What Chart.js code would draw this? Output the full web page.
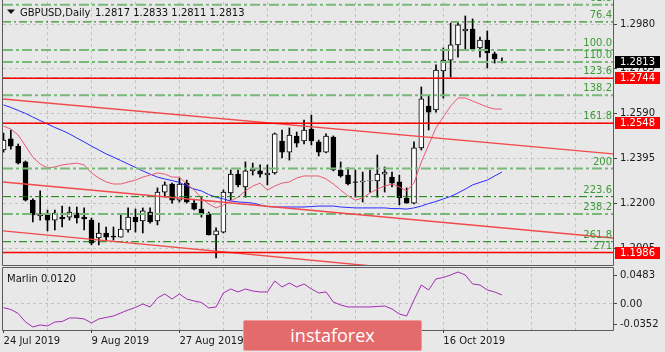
<!DOCTYPE html>
<html>
<head>
<meta charset="utf-8">
<script src="https://cdn.jsdelivr.net/npm/chart.js@4.4.1/dist/chart.umd.min.js"></script>
<style>
  html, body { margin: 0; padding: 0; background: #e8e8e8; }
  body { width: 665px; height: 352px; position: relative; overflow: hidden; }
  #priceChart { position: absolute; left: 0; top: 0; }
  #marlinChart { position: absolute; left: 0; top: 267px; }
  #logo {
    position: absolute; left: 243px; top: 320px; width: 177px; height: 29px;
    background: #e36b6b; border: 1px solid #ee9a9a; border-radius: 2px;
    color: #fff; font: 18px 'Open Sans', sans-serif; line-height: 29px; text-align: center;
  }
</style>
</head>
<body>
<canvas id="priceChart" width="665" height="267"></canvas>
<canvas id="marlinChart" width="665" height="85"></canvas>
<div id="logo">instaforex</div>
<script>
// GBPUSD daily candles, one entry per bar (24 Jul .. 25 Oct 2019)
const opens = [1.2432, 1.2480, 1.2449, 1.2380, 1.2214, 1.2145, 1.2154, 1.2127, 1.2140, 1.2140,
  1.2158, 1.2140, 1.2127, 1.2049, 1.2071, 1.2058, 1.2053, 1.2084, 1.2140, 1.2123,
  1.2162, 1.2123, 1.2249, 1.2284, 1.2214, 1.2288, 1.2201, 1.2175, 1.2154, 1.2062,
  1.2075, 1.2245, 1.2327, 1.2271, 1.2341, 1.2341, 1.2323, 1.2332, 1.2471, 1.2423,
  1.2493, 1.2471, 1.2523, 1.2467, 1.2423, 1.2488, 1.2345, 1.2323, 1.2293, 1.2293,
  1.2297, 1.2297, 1.2327, 1.2314, 1.2293, 1.2223, 1.2201, 1.2441, 1.2623, 1.2606,
  1.2776, 1.2823, 1.2889, 1.2950, 1.2958, 1.2876, 1.2910, 1.2850, 1.2817];
const highs = [1.2506, 1.2519, 1.2458, 1.2384, 1.2219, 1.2254, 1.2171, 1.2171, 1.2188, 1.2184,
  1.2184, 1.2180, 1.2136, 1.2114, 1.2097, 1.2097, 1.2149, 1.2180, 1.2175, 1.2180,
  1.2180, 1.2267, 1.2293, 1.2288, 1.2310, 1.2301, 1.2214, 1.2227, 1.2162, 1.2093,
  1.2258, 1.2345, 1.2345, 1.2380, 1.2375, 1.2367, 1.2367, 1.2506, 1.2519, 1.2528,
  1.2510, 1.2562, 1.2584, 1.2475, 1.2502, 1.2493, 1.2380, 1.2354, 1.2345, 1.2336,
  1.2345, 1.2410, 1.2358, 1.2336, 1.2323, 1.2267, 1.2467, 1.2706, 1.2667, 1.2802,
  1.2876, 1.2984, 1.2984, 1.3015, 1.3002, 1.2923, 1.2950, 1.2858, 1.2833];
const lows = [1.2423, 1.2436, 1.2371, 1.2210, 1.2119, 1.2127, 1.2080, 1.2084, 1.2097, 1.2127,
  1.2114, 1.2084, 1.2019, 1.2019, 1.2040, 1.2040, 1.2053, 1.2075, 1.2075, 1.2071,
  1.2114, 1.2106, 1.2227, 1.2201, 1.2206, 1.2201, 1.2171, 1.2140, 1.2062, 1.1962,
  1.2071, 1.2214, 1.2271, 1.2227, 1.2323, 1.2314, 1.2280, 1.2327, 1.2397, 1.2388,
  1.2445, 1.2458, 1.2454, 1.2406, 1.2419, 1.2341, 1.2314, 1.2280, 1.2227, 1.2206,
  1.2249, 1.2227, 1.2249, 1.2271, 1.2193, 1.2201, 1.2197, 1.2432, 1.2519, 1.2597,
  1.2658, 1.2749, 1.2836, 1.2867, 1.2863, 1.2836, 1.2789, 1.2810, 1.2811];
const closes = [1.2475, 1.2449, 1.2375, 1.2214, 1.2149, 1.2154, 1.2127, 1.2158, 1.2132, 1.2162,
  1.2136, 1.2132, 1.2027, 1.2071, 1.2053, 1.2053, 1.2088, 1.2140, 1.2119, 1.2167,
  1.2119, 1.2249, 1.2280, 1.2214, 1.2284, 1.2206, 1.2175, 1.2154, 1.2062, 1.2080,
  1.2249, 1.2327, 1.2280, 1.2341, 1.2349, 1.2327, 1.2332, 1.2502, 1.2423, 1.2497,
  1.2462, 1.2519, 1.2471, 1.2423, 1.2493, 1.2345, 1.2319, 1.2284, 1.2291, 1.2297,
  1.2299, 1.2327, 1.2336, 1.2288, 1.2223, 1.2201, 1.2441, 1.2654, 1.2597, 1.2780,
  1.2823, 1.2889, 1.2976, 1.2958, 1.2871, 1.2910, 1.2854, 1.2828, 1.2813];

// moving averages
const maFast = [1.2536, 1.2523, 1.2497, 1.2449, 1.2401, 1.2371, 1.2354, 1.2358, 1.2367, 1.2371,
  1.2375, 1.2367, 1.2332, 1.2310, 1.2293, 1.2284, 1.2284, 1.2293, 1.2301, 1.2314,
  1.2323, 1.2332, 1.2327, 1.2314, 1.2314, 1.2284, 1.2258, 1.2223, 1.2197, 1.2180,
  1.2193, 1.2210, 1.2227, 1.2254, 1.2275, 1.2288, 1.2258, 1.2275, 1.2288, 1.2293,
  1.2310, 1.2319, 1.2319, 1.2319, 1.2306, 1.2284, 1.2258, 1.2232, 1.2214, 1.2223,
  1.2245, 1.2262, 1.2275, 1.2284, 1.2271, 1.2254, 1.2288, 1.2380, 1.2454, 1.2528,
  1.2576, 1.2623, 1.2658, 1.2658, 1.2645, 1.2632, 1.2619, 1.2610, 1.2610];
const maSlow = [1.2628, 1.2617, 1.2604, 1.2591, 1.2575, 1.2560, 1.2545, 1.2530, 1.2517, 1.2502,
  1.2484, 1.2467, 1.2449, 1.2432, 1.2415, 1.2401, 1.2386, 1.2371, 1.2356, 1.2341,
  1.2327, 1.2314, 1.2306, 1.2299, 1.2291, 1.2275, 1.2262, 1.2254, 1.2238, 1.2227,
  1.2219, 1.2210, 1.2206, 1.2204, 1.2201, 1.2193, 1.2186, 1.2184, 1.2184, 1.2184,
  1.2184, 1.2184, 1.2186, 1.2188, 1.2188, 1.2188, 1.2184, 1.2182, 1.2180, 1.2180,
  1.2180, 1.2180, 1.2180, 1.2177, 1.2177, 1.2175, 1.2180, 1.2188, 1.2199, 1.2208,
  1.2219, 1.2230, 1.2245, 1.2262, 1.2280, 1.2291, 1.2301, 1.2319, 1.2336];

// Marlin oscillator (sub window)
const marlin = [-0.0063, -0.0094, -0.0162, -0.0307, -0.0392, -0.0358, -0.0375, -0.0307, -0.0299, -0.0239,
  -0.0239, -0.0256, -0.0324, -0.0256, -0.0230, -0.0205, -0.0154, -0.0102, -0.0060, 0.0000,
  -0.0051, 0.0102, 0.0171, 0.0085, 0.0171, 0.0085, 0.0051, 0.0026, -0.0068, -0.0051,
  0.0188, 0.0256, 0.0205, 0.0256, 0.0222, 0.0205, 0.0205, 0.0392, 0.0290, 0.0358,
  0.0290, 0.0341, 0.0256, 0.0188, 0.0205, 0.0034, -0.0017, -0.0051, -0.0051, -0.0051,
  -0.0051, -0.0043, -0.0034, -0.0085, -0.0171, -0.0205, 0.0068, 0.0324, 0.0239, 0.0427,
  0.0452, 0.0495, 0.0546, 0.0495, 0.0341, 0.0324, 0.0239, 0.0205, 0.0154];

// axis ticks / labels
const dateLabels = ['24 Jul 2019', '9 Aug 2019', '27 Aug 2019', '12 Sep 2019', '30 Sep 2019', '16 Oct 2019'];
const dateTickIdx = [0, 12, 24, 36, 48, 60];
const gridIdx = [6, 12, 18, 24, 30, 36, 42, 48, 54, 60, 66, 72, 78];
const priceTicks = [1.2005, 1.2200, 1.2395, 1.2590, 1.2785, 1.2980];
const marlinTicks = [-0.0352, 0, 0.0483];

// drawn objects
const redLevels = [1.2744, 1.2548, 1.1986];
const fibLabels = ['61.8', '76.4', '100.0', '110.0', '123.6', '138.2', '161.8', '200', '223.6', '238.2', '261.8', '271'];
const fibPrices = [1.3064, 1.2989, 1.2867, 1.2815, 1.2744, 1.2670, 1.2548, 1.2351, 1.2229, 1.2153, 1.2033, 1.1986];
const trendX = [[-0.07, 83.15], [-0.07, 83.15], [-0.07, 50.4]];
const trendY = [[1.2654, 1.2415], [1.2293, 1.2049], [1.2080, 1.1927]];

// visible ranges
const xMin = -0.07, xMax = 83.15;
const priceMin = 1.19317, priceMax = 1.30757;
const marlinMin = -0.0444, marlinMax = 0.0614;

const darkFib = ['76.4', '123.6', '161.8', '223.6', '261.8', '271'];
const FONT = "'DejaVu Sans', sans-serif";
const GRID = '#c3c3c3';

Chart.defaults.font.family = FONT;
Chart.defaults.font.size = 10;
Chart.defaults.color = '#1a1a1a';

function hLine(y, extra) {
    return Object.assign({
        type: 'line',
        data: [{ x: xMin, y: y }, { x: xMax, y: y }],
        pointRadius: 0,
        clip: 0
    }, extra);
}

// ---------- datasets ----------
const idx = opens.map((o, i) => i);

const datasets = [];
redLevels.forEach(v => datasets.push(hLine(v, { borderColor: '#ff0000', borderWidth: 1.4, order: 0 })));
trendX.forEach((tx, k) => datasets.push({
    type: 'line',
    data: [{ x: tx[0], y: trendY[k][0] }, { x: tx[1], y: trendY[k][1] }],
    borderColor: '#f24a4a',
    borderWidth: 1.4,
    pointRadius: 0,
    clip: 0,
    order: 1
}));
fibPrices.forEach((p, k) => {
    const dark = darkFib.includes(fibLabels[k]);
    datasets.push(hLine(p, {
        borderColor: dark ? '#0b7f0b' : '#78b878',
        borderWidth: dark ? 1 : 2,
        borderDash: dark ? [8, 3, 2, 3] : [10, 3, 3, 3],
        order: 2
    }));
});
datasets.push({
    type: 'line', data: idx.map(i => ({ x: i, y: maFast[i] })),
    borderColor: '#e85a74', borderWidth: 1, pointRadius: 0, tension: 0, clip: 0, order: 3
});
datasets.push({
    type: 'line', data: idx.map(i => ({ x: i, y: maSlow[i] })),
    borderColor: '#2b2bff', borderWidth: 1, pointRadius: 0, tension: 0, clip: 0, order: 4
});
// candle bodies
datasets.push({
    type: 'bar',
    data: idx.map(i => ({ x: i, y: [opens[i], closes[i]] })),
    backgroundColor: idx.map(i => closes[i] >= opens[i] ? '#ffffff' : '#000000'),
    borderColor: '#000000',
    borderWidth: 1,
    borderSkipped: false,
    barThickness: 5,
    grouped: false,
    order: 5
});
// wicks
datasets.push({
    type: 'bar',
    data: idx.map(i => ({ x: i, y: [lows[i], highs[i]] })),
    backgroundColor: '#000000',
    borderWidth: 0,
    barThickness: 1,
    grouped: false,
    order: 6
});

// ---------- plugins ----------
const framePlugin = {
    id: 'frame',
    afterDraw(chart) {
        const { ctx, chartArea: a } = chart;
        const full = chart.canvas.id === 'marlinChart';
        ctx.save();
        ctx.strokeStyle = '#5c5c5c';
        ctx.lineWidth = 1;
        ctx.beginPath();
        if (full) {
            ctx.rect(a.left - 0.5, a.top - 0.5, a.right - a.left + 1, a.bottom - a.top + 1);
        } else {
            ctx.moveTo(a.left - 0.5, 0);
            ctx.lineTo(a.left - 0.5, a.bottom + 0.5);
            ctx.lineTo(a.right + 0.5, a.bottom + 0.5);
            ctx.lineTo(a.right + 0.5, 0);
        }
        ctx.stroke();
        ctx.restore();
    }
};

const fibTextPlugin = {
    id: 'fibText',
    afterDatasetsDraw(chart) {
        const { ctx, chartArea: a } = chart;
        const ys = chart.scales.y;
        ctx.save();
        ctx.beginPath();
        ctx.rect(a.left, a.top - 2, a.right - a.left, a.bottom - a.top + 2);
        ctx.clip();
        ctx.font = '10px ' + FONT;
        ctx.fillStyle = '#3b9b35';
        ctx.textAlign = 'right';
        ctx.textBaseline = 'alphabetic';
        fibPrices.forEach((p, k) => {
            ctx.fillText(fibLabels[k], a.right - 1, ys.getPixelForValue(p) - 4);
        });
        ctx.restore();
    }
};

const priceTagPlugin = {
    id: 'priceTags',
    afterDraw(chart) {
        const { ctx, chartArea: a } = chart;
        const ys = chart.scales.y;
        const tags = [{ v: closes[closes.length - 1], bg: '#000000' }]
            .concat(redLevels.map(v => ({ v: v, bg: '#ff0000' })));
        ctx.save();
        ctx.font = '10px ' + FONT;
        ctx.textBaseline = 'middle';
        ctx.textAlign = 'left';
        tags.forEach(t => {
            const py = Math.round(ys.getPixelForValue(t.v));
            ctx.fillStyle = t.bg;
            ctx.fillRect(a.right + 2, py - 6, 45, 12);
            ctx.fillStyle = '#ffffff';
            ctx.fillText(t.v.toFixed(4), a.right + 7, py + 0.5);
        });
        // symbol title
        ctx.fillStyle = '#111111';
        ctx.beginPath();
        ctx.moveTo(7, 9.5); ctx.lineTo(15, 9.5); ctx.lineTo(11, 14);
        ctx.closePath();
        ctx.fill();
        ctx.textBaseline = 'alphabetic';
        ctx.fillText('GBPUSD,Daily', 20, 16);
        const last = opens.length - 1;
        ctx.fillText([opens[last], highs[last], lows[last], closes[last]].map(v => v.toFixed(4)).join(' '), 95, 16);
        ctx.restore();
    }
};

const marlinTitlePlugin = {
    id: 'marlinTitle',
    afterDraw(chart) {
        const { ctx, chartArea: a } = chart;
        ctx.save();
        ctx.font = '10px ' + FONT;
        ctx.fillStyle = '#111111';
        ctx.fillText('Marlin 0.0120', 7, a.top + 14);
        ctx.restore();
    }
};

function zeroPad(s) { s.paddingLeft = 0; s.paddingRight = 0; s.paddingTop = 0; s.paddingBottom = 0; }

// ---------- main price chart ----------
new Chart(document.getElementById('priceChart'), {
    type: 'line',
    data: { datasets: datasets },
    options: {
        responsive: false,
        animation: false,
        events: [],
        layout: { padding: { left: 3, top: 2, right: 0, bottom: 2 } },
        plugins: { legend: { display: false }, tooltip: { enabled: false } },
        scales: {
            x: {
                type: 'linear', min: xMin, max: xMax, offset: false,
                afterBuildTicks: s => { s.ticks = gridIdx.map(v => ({ value: v })); },
                afterFit: s => { s.height = 0; zeroPad(s); },
                ticks: { display: false },
                grid: { color: GRID, drawTicks: false, offset: false },
                border: { display: false, dash: [3, 3] }
            },
            y: {
                type: 'linear', position: 'right', min: priceMin, max: priceMax,
                afterBuildTicks: s => { s.ticks = priceTicks.map(v => ({ value: v })); },
                afterFit: s => { s.width = 52; zeroPad(s); },
                ticks: { callback: v => v.toFixed(4), padding: 3, color: '#1a1a1a' },
                grid: { color: GRID, tickColor: '#444444', tickLength: 4, tickBorderDash: [] },
                border: { display: false, dash: [3, 3] }
            }
        }
    },
    plugins: [fibTextPlugin, framePlugin, priceTagPlugin]
});

// ---------- Marlin sub window ----------
new Chart(document.getElementById('marlinChart'), {
    type: 'line',
    data: {
        datasets: [{
            data: idx.map(i => ({ x: i, y: marlin[i] })),
            borderColor: '#a02cb0',
            borderWidth: 1,
            pointRadius: 0,
            tension: 0,
            clip: 0
        }]
    },
    options: {
        responsive: false,
        animation: false,
        events: [],
        layout: { padding: { left: 3, top: 1, right: 0, bottom: 0 } },
        plugins: { legend: { display: false }, tooltip: { enabled: false } },
        scales: {
            x: {
                type: 'linear', min: xMin, max: xMax, offset: false,
                afterBuildTicks: s => { s.ticks = [0].concat(gridIdx).map(v => ({ value: v })); },
                afterFit: s => { s.height = 22; zeroPad(s); },
                ticks: {
                    autoSkip: false, maxRotation: 0, align: 'start', padding: 2, color: '#1a1a1a',
                    callback: v => {
                        const k = dateTickIdx.indexOf(v);
                        return k >= 0 ? dateLabels[k] : '';
                    }
                },
                grid: {
                    color: c => (c.tick && c.tick.value === 0) ? 'rgba(0,0,0,0)' : GRID,
                    tickColor: c => (c.tick && dateTickIdx.includes(c.tick.value)) ? '#444444' : 'rgba(0,0,0,0)',
                    tickLength: 3, tickBorderDash: [], offset: false
                },
                border: { display: false, dash: [3, 3] }
            },
            y: {
                type: 'linear', position: 'right', min: marlinMin, max: marlinMax,
                afterBuildTicks: s => { s.ticks = marlinTicks.map(v => ({ value: v })); },
                afterFit: s => { s.width = 52; zeroPad(s); },
                ticks: { callback: v => v === 0 ? '0.00' : v.toFixed(4), padding: 3, color: '#1a1a1a' },
                grid: {
                    color: c => (c.tick && c.tick.value === 0) ? GRID : 'rgba(0,0,0,0)',
                    tickColor: '#444444', tickLength: 4, tickBorderDash: []
                },
                border: { display: false, dash: [3, 3] }
            }
        }
    },
    plugins: [framePlugin, marlinTitlePlugin]
});
</script>
</body>
</html>
